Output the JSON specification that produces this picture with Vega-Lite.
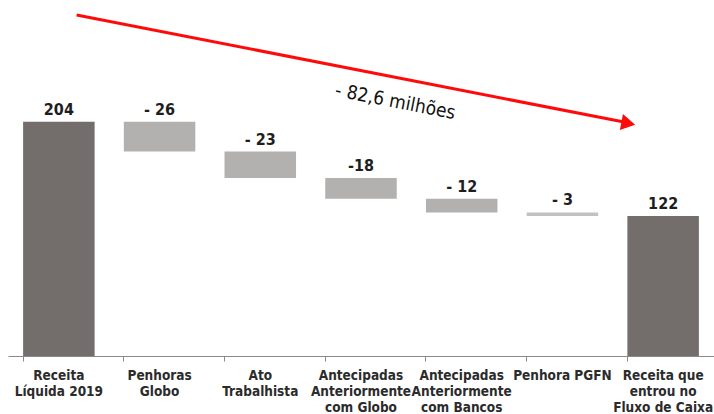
{
  "$schema": "https://vega.github.io/schema/vega-lite/v6.json",
  "autosize": "none",
  "width": 706,
  "height": 356,
  "padding": {"left": 8, "top": 0, "right": 0, "bottom": 58},
  "background": "white",
  "config": {"view": {"stroke": null}},
  "datasets": {
    "bars": [
      {"cat": "Receita|Líquida 2019", "lo": 0, "hi": 204, "label": "204", "kind": "total"},
      {"cat": "Penhoras|Globo", "lo": 178, "hi": 204, "label": "- 26", "kind": "delta"},
      {"cat": "Ato|Trabalhista", "lo": 155, "hi": 178, "label": "- 23", "kind": "delta"},
      {"cat": "Antecipadas|Anteriormente|com Globo", "lo": 137, "hi": 155, "label": "-18", "kind": "delta"},
      {"cat": "Antecipadas|Anteriormente|com Bancos", "lo": 125, "hi": 137, "label": "- 12", "kind": "delta"},
      {"cat": "Penhora PGFN", "lo": 122, "hi": 125, "label": "- 3", "kind": "small"},
      {"cat": "Receita que|entrou no|Fluxo de Caixa", "lo": 0, "hi": 122, "label": "122", "kind": "total"}
    ],
    "arrow": [
      {"x": 0.18, "y": 297, "x2": 5.62, "y2": 203.5}
    ],
    "head": [
      {"x": 5.65, "y": 202.6}
    ],
    "note": [
      {"x": 3.34, "y": 221.5, "t": "- 82,6 milhões"}
    ]
  },
  "layer": [
    {
      "data": {"name": "bars"},
      "layer": [
        {
          "mark": {"type": "bar"},
          "encoding": {
            "x": {
              "field": "cat", "type": "nominal", "sort": null,
              "scale": {"paddingInner": 0.29, "paddingOuter": 0.15},
              "axis": {
                "title": null,
                "labelAngle": 0,
                "labelExpr": "split(datum.value, '|')",
                "labelFont": "Liberation Sans Narrow, DejaVu Sans Condensed, sans-serif",
                "labelFontWeight": "bold",
                "labelFontSize": 13.5,
                "labelColor": "#2b2b2b",
                "labelLineHeight": 16,
                "labelBaseline": "top",
                "labelPadding": 7,
                "labelLimit": 200,
                "bandPosition": 0,
                "domainColor": "#8a8a8a",
                "domainWidth": 1.2,
                "tickColor": "#8a8a8a",
                "tickSize": 5,
                "ticks": true
              }
            },
            "y": {"field": "hi", "type": "quantitative", "scale": {"domain": [0, 310], "nice": false}, "axis": null},
            "y2": {"field": "lo"},
            "color": {
              "field": "kind", "type": "nominal",
              "scale": {"domain": ["total", "delta", "small"], "range": ["#736d6b", "#b3b1af", "#c4c2c0"]},
              "legend": null
            }
          }
        },
        {
          "mark": {"type": "text", "baseline": "bottom", "dy": -4, "fontWeight": "bold", "fontSize": 16, "font": "Liberation Sans Narrow, DejaVu Sans Condensed, sans-serif", "color": "#1e1e1e"},
          "encoding": {
            "x": {"field": "cat", "type": "nominal", "sort": null},
            "y": {"field": "hi", "type": "quantitative"},
            "text": {"field": "label"}
          }
        }
      ]
    },
    {
      "layer": [
        {
          "data": {"name": "arrow"},
          "mark": {"type": "rule", "color": "#ff0a0a", "strokeWidth": 3},
          "encoding": {
            "x": {"field": "x", "type": "quantitative", "scale": {"domain": [-0.5, 6.5], "nice": false, "zero": false}, "axis": null},
            "y": {"field": "y", "type": "quantitative"},
            "x2": {"field": "x2"},
            "y2": {"field": "y2"}
          }
        },
        {
          "data": {"name": "head"},
          "mark": {"type": "point", "shape": "triangle-right", "filled": true, "color": "#ff0a0a", "size": 260, "angle": 11, "opacity": 1},
          "encoding": {
            "x": {"field": "x", "type": "quantitative"},
            "y": {"field": "y", "type": "quantitative"}
          }
        },
        {
          "data": {"name": "note"},
          "mark": {"type": "text", "angle": 11, "font": "DejaVu Sans Condensed", "fontSize": 19, "fontWeight": 500, "color": "#111111"},
          "encoding": {
            "x": {"field": "x", "type": "quantitative"},
            "y": {"field": "y", "type": "quantitative"},
            "text": {"field": "t"}
          }
        }
      ]
    }
  ],
  "resolve": {"scale": {"x": "independent", "color": "independent"}}
}
